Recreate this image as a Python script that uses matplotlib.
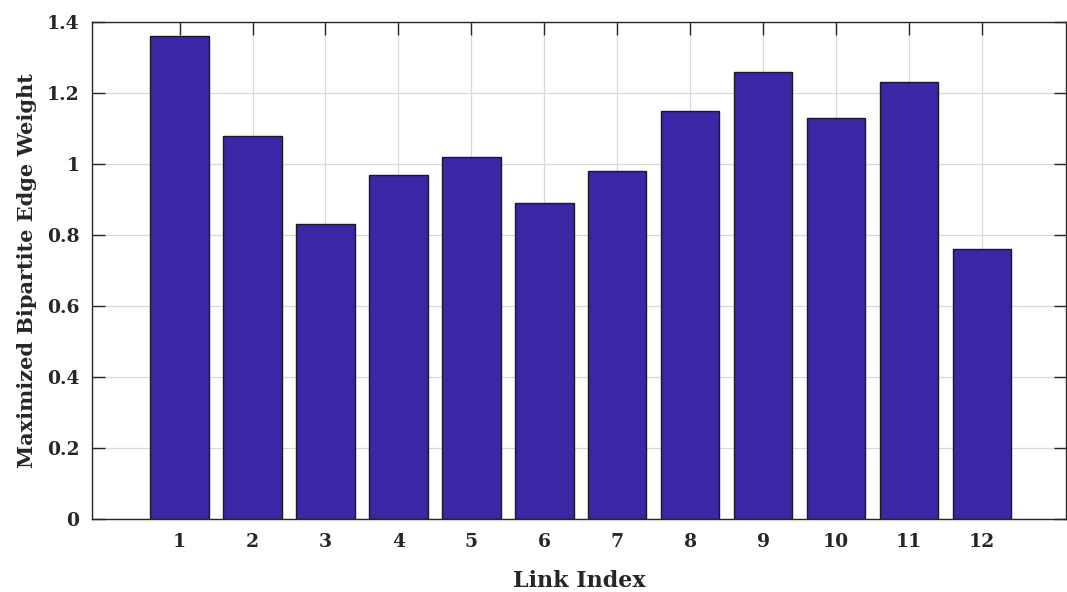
import matplotlib
matplotlib.use("Agg")
import matplotlib.pyplot as plt
import numpy as np

links = np.arange(1, 13)
weights = [1.36, 1.08, 0.83, 0.97, 1.02, 0.89, 0.98, 1.15, 1.26, 1.13, 1.23, 0.76]
yticks = [0, 0.2, 0.4, 0.6, 0.8, 1.0, 1.2, 1.4]
ytick_labels = ["0", "0.2", "0.4", "0.6", "0.8", "1", "1.2", "1.4"]

plt.rcParams["font.family"] = ["DejaVu Serif"]
plt.rcParams["font.weight"] = "bold"

fig = plt.figure(figsize=(10.67, 5.92), dpi=100)
ax = fig.add_axes([92 / 1067, 1 - 519 / 592, (1066 - 92) / 1067, (519 - 22) / 592])

ax.bar(links, weights, width=0.8, color="#3c26a6", edgecolor="#1a1a1a", linewidth=1.0, zorder=3)

ax.set_xlim(-0.2, 13.15)
ax.set_ylim(0, 1.4)
ax.set_xticks(links)
ax.set_xticklabels([str(i) for i in links], fontsize=13.5, fontweight="bold", color="#262626")
ax.set_yticks(yticks)
ax.set_yticklabels(ytick_labels, fontsize=13.5, fontweight="bold", color="#262626")

ax.grid(True, color="#d9d9d9", linewidth=0.9, zorder=0)
ax.set_axisbelow(True)
ax.tick_params(direction="in", length=9, width=1, color="#262626", top=True, right=True, pad=9)
ax.tick_params(axis="x", pad=10)
for s in ax.spines.values():
    s.set_color("#262626")
    s.set_linewidth(1.0)
    s.set_zorder(4)

ax.set_xlabel("Link Index", fontsize=16, fontweight="bold", color="#262626", labelpad=14)
ax.set_ylabel("Maximized Bipartite Edge Weight", fontsize=15, fontweight="bold", color="#262626", labelpad=7)

fig.savefig("out.png", dpi=100)
